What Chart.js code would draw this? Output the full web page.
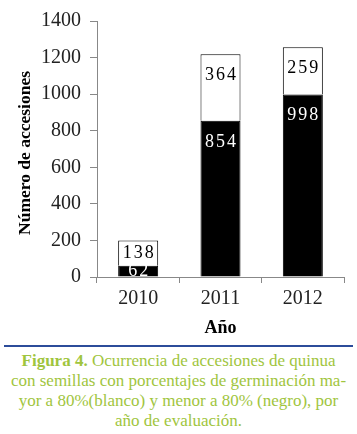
<!DOCTYPE html>
<html>
<head>
<meta charset="utf-8">
<script src="https://cdn.jsdelivr.net/npm/chart.js@4"></script>
<style>
  html, body { margin: 0; padding: 0; background: #fff; }
  #wrap { position: relative; width: 357px; height: 434px; overflow: hidden; }
  canvas { position: absolute; left: 0; top: 0; }
  #rule { position: absolute; left: 4px; top: 345px; width: 349px; height: 0; border-top: 2px solid #2c4c9a; }
  #cap { position: absolute; left: 0; top: 351px; width: 357px; text-align: center;
         font-family: "Liberation Serif", "Times New Roman", serif; font-size: 17px; line-height: 20px; color: #9fc53e; }
</style>
</head>
<body>
<div id="wrap">
  <canvas id="c" width="357" height="340"></canvas>
  <div id="rule"></div>
  <div id="cap"><b>Figura 4.</b> Ocurrencia de accesiones de quinua<br>con semillas con porcentajes de germinación ma-<br>yor a 80%(blanco) y menor a 80% (negro), por<br>año de evaluación.</div>
</div>
<script>
const years = ["2010", "2011", "2012"];
const negro = [62, 854, 998];
const blanco = [138, 364, 259];
const yTicks = [0, 200, 400, 600, 800, 1000, 1200, 1400];
const yTitle = "Número de accesiones";

const serif = "'Liberation Serif', 'Times New Roman', serif";

const labelPlugin = {
  id: 'segLabels',
  afterDatasetsDraw(chart) {
    const ctx = chart.ctx;
    ctx.save();
    ctx.font = "18px " + serif;
    ctx.textAlign = 'center';
    ctx.textBaseline = 'middle';
    try { ctx.letterSpacing = '2px'; } catch (e) {}
    chart.data.datasets.forEach((ds, di) => {
      const meta = chart.getDatasetMeta(di);
      meta.data.forEach((el, i) => {
        const top = el.y, base = el.base;
        const h = base - top;
        const y = top + Math.min(21, h / 2);
        ctx.fillStyle = ds.labelColor;
        ctx.fillText(String(ds.data[i]), el.x + 1, y);
      });
    });
    ctx.restore();
  },
  afterDraw(chart) {
    const ctx = chart.ctx;
    const ca = chart.chartArea;
    ctx.save();
    ctx.translate(25, (ca.top + ca.bottom) / 2 + 4);
    ctx.rotate(-Math.PI / 2);
    ctx.font = "bold 17.5px " + serif;
    ctx.fillStyle = '#000';
    ctx.textAlign = 'center';
    ctx.textBaseline = 'middle';
    ctx.fillText(yTitle, 0, 0);
    ctx.restore();
  }
};

new Chart(document.getElementById('c'), {
  type: 'bar',
  data: {
    labels: years,
    datasets: [
      { label: 'menor a 80%', data: negro, backgroundColor: '#000', borderColor: '#000', borderWidth: 1, labelColor: '#fff' },
      { label: 'mayor a 80%', data: blanco, backgroundColor: '#fff', borderColor: '#000', borderWidth: 1, labelColor: '#000' }
    ]
  },
  options: {
    responsive: false,
    animation: false,
    devicePixelRatio: 1,
    categoryPercentage: 1,
    barPercentage: 0.486,
    layout: { padding: { left: 0, right: 13, top: 19, bottom: 0 } },
    plugins: { legend: { display: false }, tooltip: { enabled: false } },
    scales: {
      x: {
        stacked: true,
        grid: { display: true, offset: true, drawOnChartArea: false, drawTicks: true, tickLength: 6, color: '#888' },
        border: { display: true, color: '#888', width: 1 },
        ticks: { color: '#222', font: { family: serif, size: 20 }, padding: 4 },
        title: { display: true, text: 'Año', color: '#000', font: { family: serif, size: 18, weight: 'bold' }, padding: { top: 0, bottom: 1 } },
        afterFit(scale) { scale.height = 63; }
      },
      y: {
        stacked: true,
        min: 0, max: 1400,
        afterBuildTicks(scale) { scale.ticks = yTicks.map(v => ({ value: v })); },
        grid: { display: true, drawOnChartArea: false, drawTicks: true, tickLength: 7, color: '#888' },
        border: { display: true, color: '#888', width: 1 },
        ticks: { color: '#222', font: { family: serif, size: 20 }, padding: 9, callback: (v) => String(v) },
        title: { display: false },
        afterFit(scale) { scale.width = 97; }
      }
    }
  },
  plugins: [labelPlugin]
});
</script>
</body>
</html>
